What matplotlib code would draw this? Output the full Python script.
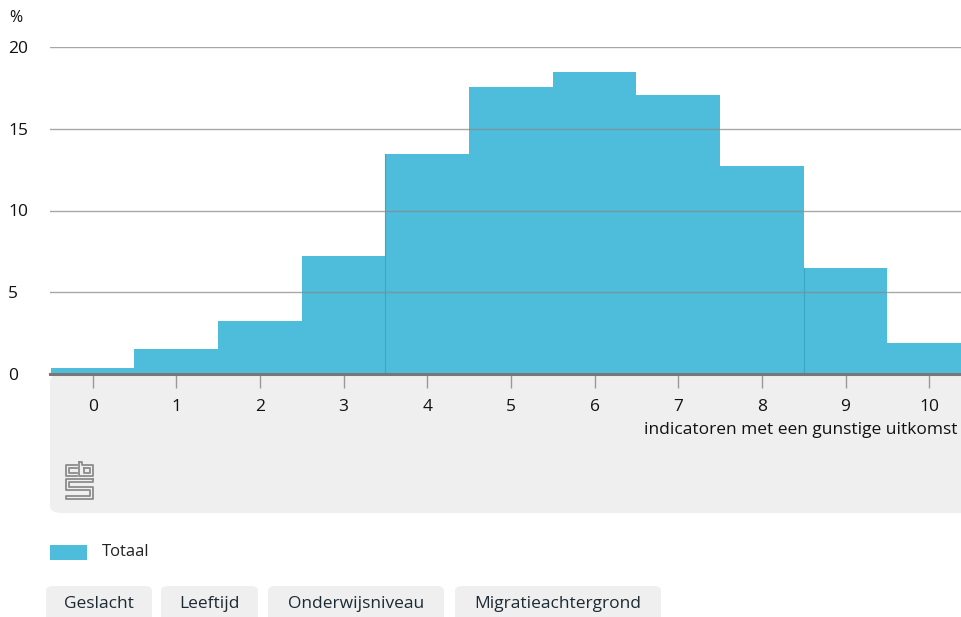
import numpy as np
import matplotlib.pyplot as plt
from matplotlib.patches import FancyBboxPatch, Rectangle
from matplotlib.lines import Line2D

plt.rcParams['font.family'] = ['Open Sans', 'DejaVu Sans']

# data
categories = list(range(11))
totaal = [0.35, 1.5, 3.25, 7.2, 13.45, 17.55, 18.45, 17.05, 12.7, 6.5, 1.9]
yticks = [0, 5, 10, 15, 20]
x_title = 'indicatoren met een gunstige uitkomst'
legend_label = 'Totaal'
buttons = ['Geslacht', 'Leeftijd', 'Onderwijsniveau', 'Migratieachtergrond']

W, H = 961, 617
blue = '#4dbddb'
panel = '#efefef'

fig = plt.figure(figsize=(W / 100, H / 100), dpi=100)


def fx(px):
    return px / W


def fy(py):
    return 1 - py / H


# grey panel below the plot
fig.patches.append(FancyBboxPatch((fx(50), fy(513)), fx(961 + 20) - fx(50), fy(374) - fy(513),
                                  boxstyle='round,pad=0,rounding_size=0.012',
                                  transform=fig.transFigure, facecolor=panel,
                                  edgecolor='none', zorder=-5))

ax = fig.add_axes([fx(50), fy(374), fx(961) - fx(50), fy(47) - fy(374)])
ax.bar(categories, totaal, width=1.0, color=blue, zorder=1)
# thin darker edges seen in the original
for i in [4, 9]:
    ax.axvline(i - 0.5, ymin=0, ymax=totaal[i] / 20, color='#3aa6c8', lw=0.8, zorder=1.5)

ax.set_xlim(-0.51, 10.38)
ax.set_ylim(0, 20)
for y in yticks[1:]:
    ax.axhline(y, color='#8a8a8a', lw=1.0, alpha=0.75, zorder=2)
ax.axhline(0, color='#777777', lw=2.2, zorder=3, clip_on=False)

for s in ax.spines.values():
    s.set_visible(False)
ax.set_yticks(yticks)
ax.set_yticklabels([str(v) for v in yticks], fontsize=12.5, color='#111111')
ax.tick_params(axis='y', length=0, pad=0)
for lab in ax.get_yticklabels():
    lab.set_horizontalalignment('left')
    lab.set_x(-50 / 911 + 8 / 911)
ax.set_xticks(categories)
ax.set_xticklabels([str(c) for c in categories], fontsize=12.5, color='#111111')
ax.tick_params(axis='x', length=10, width=1, color='#999999', pad=8)
ax.set_facecolor('white')
ax.patch.set_alpha(0)

fig.text(fx(9), fy(18), '%', fontsize=11.5, color='#111111', va='center', ha='left')
fig.text(fx(958), fy(430), x_title, fontsize=12.5, color='#111111', va='center', ha='right')

# cbs logo (simple line drawing)
g = '#8c8c8c'
logo = [
    # c
    [(77, 465), (66, 465), (66, 476), (77, 476)],
    [(77, 468), (69, 468), (69, 473), (77, 473)],
    # b
    [(79, 462), (79, 476), (93, 476), (93, 465), (82, 465), (82, 462), (79, 462)],
    [(84, 468), (90, 468), (90, 473), (84, 473), (84, 468)],
    # s
    [(93, 479), (66, 479), (66, 490), (90, 490), (90, 496), (66, 496), (66, 499), (93, 499), (93, 487), (69, 487), (69, 482), (93, 482), (93, 479)],
]
for pts in logo:
    xs = [fx(p[0]) for p in pts]
    ys = [fy(p[1]) for p in pts]
    fig.lines.append(Line2D(xs, ys, transform=fig.transFigure, color=g, lw=1.3, zorder=5))

# legend
fig.patches.append(Rectangle((fx(50), fy(560)), fx(87) - fx(50), fy(545) - fy(560),
                             transform=fig.transFigure, facecolor=blue, edgecolor='none'))
fig.text(fx(102), fy(552), legend_label, fontsize=12, color='#222222', va='center', ha='left')

# buttons
btn_x = [(46, 152), (161, 258), (268, 444), (455, 661)]
for (x0, x1), lab in zip(btn_x, buttons):
    fig.patches.append(FancyBboxPatch((fx(x0), fy(630)), fx(x1) - fx(x0), fy(586) - fy(630),
                                      boxstyle='round,pad=0,rounding_size=0.008',
                                      transform=fig.transFigure, facecolor=panel,
                                      edgecolor='none', clip_on=False))
    fig.text(fx((x0 + x1) / 2), fy(604), lab, fontsize=12.5, color='#1c2a33',
             va='center', ha='center')

fig.savefig('out.png', dpi=100)
